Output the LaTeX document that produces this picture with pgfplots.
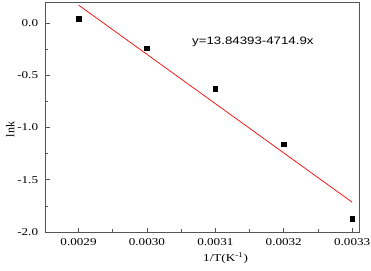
\documentclass[border=0pt]{standalone}
\usepackage{pgfplots}
\pgfplotsset{compat=1.18}
\usepackage{fontspec}
\setmainfont{Liberation Serif}
\newfontfamily\arialf{Liberation Sans}
\definecolor{framegray}{RGB}{85,85,85}
\begin{document}
\begin{tikzpicture}
\path[use as bounding box] (0,0) rectangle (371pt,270pt);
\begin{axis}[
  at={(45pt,38pt)}, anchor=south west,
  scale only axis, width=314pt, height=230pt,
  xmin=0.002851, xmax=0.00331, ymin=-2.0, ymax=0.2,
  axis line style={framegray, line width=0.7pt},
  tick style={framegray, line width=0.7pt},
  tick align=inside, xtick pos=bottom, ytick pos=left,
  major tick length=4.5pt, minor tick length=3pt,
  xtick={0.0029,0.0030,0.0031,0.0032,0.0033},
  xticklabels={0.0029,0.0030,0.0031,0.0032,0.0033},
  ytick={-2.0,-1.5,-1.0,-0.5,0.0},
  yticklabels={-2.0,-1.5,-1.0,-0.5,0.0},
  minor x tick num=1, minor y tick num=1,
  scaled x ticks=false,
  tick label style={font=\fontsize{10.5}{12}\selectfont, xscale=1.25},
  xticklabel style={anchor=north, yshift=-3pt},
  yticklabel style={anchor=east, xshift=-2pt},
  xlabel={1/T(K\textsuperscript{-1})},
  ylabel={lnk},
  xlabel style={font=\fontsize{10.5}{12}\selectfont, at={(axis description cs:0.575,0)}, anchor=north, yshift=-17pt, xscale=1.25},
  ylabel style={font=\fontsize{12}{14}\selectfont, at={(axis description cs:-0.111,0.446)}, anchor=center},
]
\addplot[only marks, mark=square*, mark size=2.3pt, black] coordinates {
  (0.0029,0.04) (0.0030,-0.24) (0.0031,-0.63) (0.0032,-1.16) (0.0033,-1.87)
};
\addplot[red, line width=0.7pt] coordinates {
  (0.0029,0.17072) (0.0033,-1.71524)
};
\node[anchor=base west, font=\arialf\fontsize{10.7}{12}\selectfont, xscale=1.24, inner sep=0pt]
  at (rel axis cs:0.468,0.815) {y=13.84393-4714.9x};
\end{axis}
\end{tikzpicture}
\end{document}
